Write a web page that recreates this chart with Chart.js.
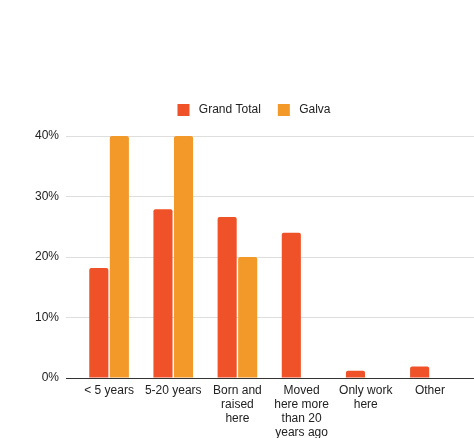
<!DOCTYPE html>
<html>
<head>
<meta charset="utf-8">
<script src="https://cdn.jsdelivr.net/npm/chart.js@4/dist/chart.umd.min.js"></script>
<style>
  html, body { margin: 0; padding: 0; background: #fff; overflow: hidden; }
  #wrap { width: 474px; height: 438px; }
</style>
</head>
<body>
<div id="wrap"><canvas id="chart" width="474" height="438"></canvas></div>
<script>
// categories (multi-line labels)
var categories = [
  '< 5 years',
  '5-20 years',
  ['Born and', 'raised', 'here'],
  ['Moved', 'here more', 'than 20', 'years ago'],
  ['Only work', 'here'],
  'Other'
];
var grandTotal = [18.2, 27.9, 26.6, 24.0, 1.2, 1.9];
var galva = [40, 40, 20, 0, 0, 0];
var yTicks = [0, 10, 20, 30, 40];

var font = { family: "'Liberation Sans', Arial, sans-serif", size: 12 };
var gridColor = function(ctx) {
  return ctx.tick && ctx.tick.value === 0 ? '#333333' : '#dedede';
};

new Chart(document.getElementById('chart'), {
  type: 'bar',
  data: {
    labels: categories,
    datasets: [{
      label: ' Grand Total',
      data: grandTotal,
      backgroundColor: '#ef5128',
      borderWidth: 0,
      borderRadius: 2,
      categoryPercentage: 0.64,
      barPercentage: 0.93
    }, {
      label: ' Galva',
      data: galva,
      backgroundColor: '#f2992a',
      borderWidth: 0,
      borderRadius: 2,
      categoryPercentage: 0.64,
      barPercentage: 0.93
    }]
  },
  options: {
    responsive: false,
    animation: false,
    layout: { padding: { top: 87, left: 34, right: 0, bottom: 0 } },
    plugins: {
      tooltip: { enabled: false },
      legend: {
        position: 'top',
        labels: {
          boxWidth: 12,
          boxHeight: 12,
          padding: 17,
          color: '#222222',
          font: font
        }
      }
    },
    scales: {
      x: {
        grid: { display: false, drawTicks: false },
        border: { display: true, color: '#333333', width: 1 },
        ticks: {
          color: '#222222',
          font: { family: font.family, size: 12, lineHeight: 1.17 },
          padding: 6,
          maxRotation: 0,
          autoSkip: false
        },
        afterFit: function(s) { s.height = 60; }
      },
      xTop: {
        type: 'category',
        position: 'top',
        grid: { display: false, drawTicks: false },
        ticks: { display: false },
        border: { display: false },
        afterFit: function(s) { s.height = 10; }
      },
      y: {
        min: 0,
        max: 40,
        afterBuildTicks: function(s) { s.ticks = yTicks.map(function(v) { return { value: v }; }); },
        ticks: {
          color: '#222222',
          font: font,
          padding: 7,
          callback: function(v) { return v + '%'; }
        },
        grid: { color: gridColor, tickLength: 11 },
        border: { display: false },
        afterFit: function(s) { s.width = 43; }
      },
      y2: {
        position: 'right',
        min: 0,
        max: 40,
        afterBuildTicks: function(s) { s.ticks = yTicks.map(function(v) { return { value: v }; }); },
        ticks: { display: false },
        grid: { color: gridColor, tickLength: 12, drawOnChartArea: false },
        border: { display: false },
        afterFit: function(s) { s.width = 12; }
      }
    }
  }
});
</script>
</body>
</html>
